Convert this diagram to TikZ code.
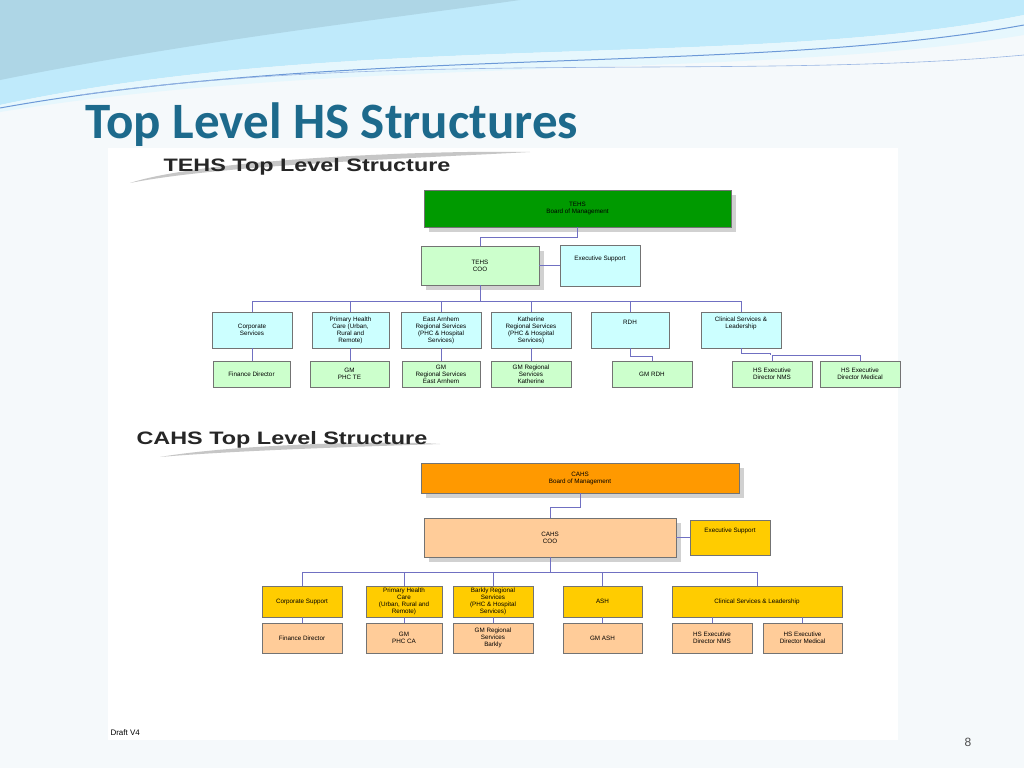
\documentclass[tikz,border=0pt]{standalone}
\usepackage{fontspec}
\setmainfont{Liberation Sans}
\newfontfamily\titlefont{Carlito}
\begin{document}
\begin{tikzpicture}[x=1pt,y=-1pt,
  box/.style={draw=black!55,line width=0.8pt,align=center,inner sep=1pt,font=\fontsize{6.3}{7}\selectfont},
  conn/.style={draw=blue!40!gray!80,line width=0.8pt},
  hdr/.style={font=\bfseries\fontsize{18}{20}\selectfont,text=black!85,anchor=west}]
\definecolor{slide}{HTML}{F5F9FB}
\definecolor{tgreen}{HTML}{009A00}
\definecolor{lgreen}{HTML}{CCFFCC}
\definecolor{lcyan}{HTML}{CCFFFF}
\definecolor{orng}{HTML}{FF9900}
\definecolor{peach}{HTML}{FFCC99}
\definecolor{yell}{HTML}{FFCC00}
\definecolor{titleblue}{HTML}{1D6A8C}
\useasboundingbox (0,0) rectangle (1024,768);
\fill[slide] (0,0) rectangle (1024,768);
% top decoration
\fill[cyan!25!white] (0,0) -- (1024,0) -- (1024,15) .. controls (750,70) and (350,30) .. (0,105) -- cycle;
\fill[cyan!45!teal!35!white] (0,0) -- (520,0) .. controls (380,20) and (200,40) .. (0,80) -- cycle;
\fill[cyan!10!white] (0,105) .. controls (350,30) and (750,70) .. (1024,15) -- (1024,35) .. controls (750,80) and (350,55) .. (0,112) -- cycle;
\draw[cyan!50!blue!60,line width=1pt] (0,108) .. controls (350,45) and (750,75) .. (1024,25);
\draw[cyan!50!blue!40,line width=0.6pt] (80,95) .. controls (400,50) and (750,80) .. (1024,55);
\node[anchor=west,text=titleblue,font=\titlefont\bfseries\fontsize{51}{55}\selectfont] (title) at (82,125) {Top Level HS Structures};
\fill[white] (108,148) rectangle (898,740);
% header swooshes
\fill[gray!45] (130,183) .. controls (200,160) and (420,150) .. (530,152) .. controls (420,158) and (220,165) .. (130,183) -- cycle;
\node[hdr] (h1) at (160,167) {\scalebox{1.3}[1]{TEHS Top Level Structure}};
\fill[gray!45] (160,457) .. controls (230,445) and (380,440) .. (440,444) .. controls (380,446) and (240,450) .. (160,457) -- cycle;
\node[hdr] (h2) at (133,440) {\scalebox{1.3}[1]{CAHS Top Level Structure}};
\node[anchor=west,font=\fontsize{8}{9}\selectfont] (draft) at (107,733) {Draft V4};
\node[text=black!70,font=\fontsize{12}{14}\selectfont] (pg) at (968,742) {8};

\newcommand\bx[7]{%
  \fill[black!18] (#2+5,#3+5) rectangle (#4+5,#5+5);
  \node[box,fill=#6,minimum width={(#4-#2)*1pt},minimum height={(#5-#3)*1pt}] (#1) at ({(#2+#4)/2},{(#3+#5)/2}) {#7};}
\newcommand\bxs[7]{%
  \node[box,fill=#6,minimum width={(#4-#2)*1pt},minimum height={(#5-#3)*1pt}] (#1) at ({(#2+#4)/2},{(#3+#5)/2}) {#7};}

% ---------- TEHS ----------
\bx{tb}{424}{190}{731}{227}{tgreen}{TEHS\\Board of Management}
\bx{tc}{421}{246}{539}{285}{lgreen}{TEHS\\COO}
\bxs{te}{560}{245}{640}{286}{lcyan}{Executive Support\\[8pt]}
\bxs{t1}{212}{312}{292}{348}{lcyan}{Corporate\\Services}
\bxs{t2}{312}{312}{389}{348}{lcyan}{Primary Health\\Care (Urban,\\Rural and\\Remote)}
\bxs{t3}{401}{312}{481}{348}{lcyan}{East Arnhem\\Regional Services\\(PHC \& Hospital\\Services)}
\bxs{t4}{491}{312}{571}{348}{lcyan}{Katherine\\Regional Services\\(PHC \& Hospital\\Services)}
\bxs{t5}{591}{312}{669}{348}{lcyan}{RDH\\[8pt]}
\bxs{t6}{701}{312}{781}{348}{lcyan}{Clinical Services \&\\Leadership\\[8pt]}
\bxs{u1}{213}{361}{290}{387}{lgreen}{Finance Director}
\bxs{u2}{310}{361}{389}{387}{lgreen}{GM\\PHC TE}
\bxs{u3}{402}{361}{480}{387}{lgreen}{GM\\Regional Services\\East Arnhem}
\bxs{u4}{491}{361}{571}{387}{lgreen}{GM Regional\\Services\\Katherine}
\bxs{u5}{612}{361}{692}{387}{lgreen}{GM RDH}
\bxs{u6}{732}{361}{812}{387}{lgreen}{HS Executive\\Director NMS}
\bxs{u7}{820}{361}{900}{387}{lgreen}{HS Executive\\Director Medical}
\draw[conn] (tb.south) -- ++(0,10) -| (tc.north);
\draw[conn] (tc.east) -- (te.west);
\draw[conn] (tc.south) -- (tc.south |- 0,301);
\draw[conn] (t1.north |- 0,301) -- (t6.north |- 0,301);
\foreach \n in {t1,t2,t3,t4,t5,t6} \draw[conn] (\n.north) -- (\n.north |- 0,301);
\foreach \a/\b in {t1/u1,t2/u2,t3/u3,t4/u4} \draw[conn] (\a.south) -- (\a.south |- \b.north);
\draw[conn] (t5.south) -- ++(0,8) -| (u5.north);
\draw[conn] (t6.south) -- ++(0,5) coordinate (cl) -- (cl -| 770,0) -- (770,355) coordinate (cm);
\draw[conn] (u6.north) -- (u6.north |- cm) -- (u7.north |- cm) -- (u7.north);

% ---------- CAHS ----------
\bx{cb}{421}{463}{739}{493}{orng}{CAHS\\Board of Management}
\bx{cc}{424}{518}{676}{557}{peach}{CAHS\\COO}
\bxs{ce}{690}{520}{770}{555}{yell}{Executive Support\\[8pt]}
\bxs{c1}{262}{586}{342}{617}{yell}{Corporate Support}
\bxs{c2}{366}{586}{442}{617}{yell}{Primary Health\\Care\\(Urban, Rural and\\Remote)}
\bxs{c3}{453}{586}{533}{617}{yell}{Barkly Regional\\Services\\(PHC \& Hospital\\Services)}
\bxs{c4}{563}{586}{642}{617}{yell}{ASH}
\bxs{c5}{672}{586}{842}{617}{yell}{Clinical Services \& Leadership}
\bxs{d1}{262}{623}{342}{653}{peach}{Finance Director}
\bxs{d2}{366}{623}{442}{653}{peach}{GM\\PHC CA}
\bxs{d3}{453}{623}{533}{653}{peach}{GM Regional\\Services\\Barkly}
\bxs{d4}{563}{623}{642}{653}{peach}{GM ASH}
\bxs{d5}{672}{623}{752}{653}{peach}{HS Executive\\Director NMS}
\bxs{d6}{763}{623}{842}{653}{peach}{HS Executive\\Director Medical}
\draw[conn] (cb.south) -- ++(0,14) -| (cc.north);
\draw[conn] (cc.east) -- (ce.west);
\draw[conn] (cc.south) -- (cc.south |- 0,572);
\draw[conn] (c1.north |- 0,572) -- (757,572) -- (c5.north -| 757,0);
\foreach \n in {c1,c2,c3,c4} \draw[conn] (\n.north) -- (\n.north |- 0,572);
\foreach \a/\b in {c1/d1,c2/d2,c3/d3,c4/d4} \draw[conn] (\a.south) -- (\b.north);
\draw[conn] (d5.north) -- (d5.north |- c5.south);
\draw[conn] (d6.north) -- (d6.north |- c5.south);
\end{tikzpicture}
\end{document}
